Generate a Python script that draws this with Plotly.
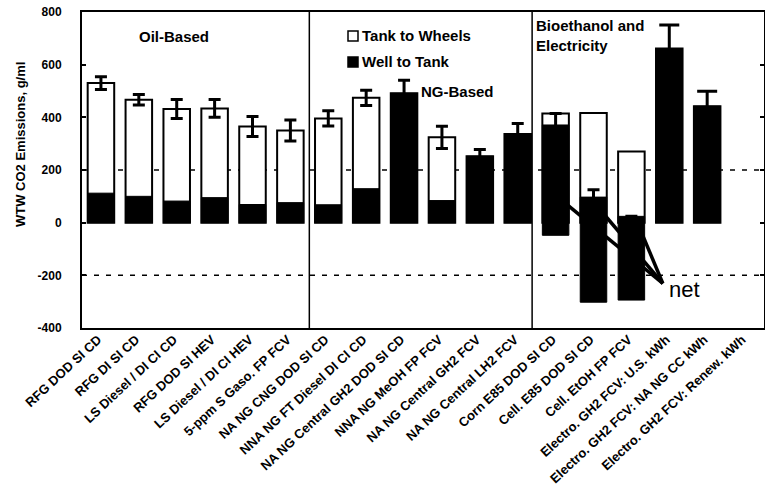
import plotly.graph_objects as go

categories = [
    "RFG DOD SI CD", "RFG DI SI CD", "LS Diesel / DI CI CD", "RFG DOD SI HEV",
    "LS Diesel / DI CI HEV", "5-ppm S Gaso. FP FCV", "NA NG CNG DOD SI CD",
    "NNA NG FT Diesel DI CI CD", "NA NG Central GH2 DOD SI CD", "NNA NG MeOH FP FCV",
    "NA NG Central GH2 FCV", "NA NG Central LH2 FCV", "Corn E85 DOD SI CD",
    "Cell. E85 DOD SI CD", "Cell. EtOH FP FCV", "Electro. GH2 FCV: U.S. kWh",
    "Electro. GH2 FCV: NA NG CC kWh", "Electro. GH2 FCV: Renew. kWh",
]
# Tank-to-wheels (outlined white) bar tops
ttw_top = [530, 467, 432, 434, 365, 350, 396, 474, 491, 324, 252, 337, 415, 416, 270, 661, 442, None]
# Well-to-tank (black) bar tops (net value for bioethanol pathways)
wtt_top = [112, 100, 82, 95, 69, 76, 68, 129, 491, 84, 252, 337, 371, 97, 24, 661, 442, None]
# Well-to-tank negative part (bioethanol credits)
wtt_base = [0, 0, 0, 0, 0, 0, 0, 0, 0, 0, 0, 0, -48, -302, -294, 0, 0, None]
# Error bar centers and half-ranges
err_mid = [530, 467, 432, 434, 365, 350, 396, 474, 491, 324, 252, 337, 371, 97, 24, 661, 442, None]
err_half = [24, 20, 36, 34, 38, 40, 29, 29, 50, 42, 26, 40, 44, 28, 0, 90, 57, None]
elec_idx = [15, 16]

section_labels = ["Oil-Based", "NG-Based", "Bioethanol and", "Electricity"]
legend_labels = ["Tank to Wheels", "Well to Tank"]
yticks = [-400, -200, 0, 200, 400, 600, 800]

FONT = "Liberation Sans, Arial, sans-serif"

# layout geometry (pixels)
W, H = 765, 491
ML, MR, MT, MB = 82, 1, 12, 163
PW, PH = W - ML - MR, H - MT - MB


def px(x):
    return (x - ML) / PW


def py(y):
    return (H - MB - y) / PH


fig = go.Figure()

fig.add_trace(go.Bar(
    x=categories, y=ttw_top, name=legend_labels[0], width=0.7,
    marker=dict(color="white", line=dict(color="black", width=2)),
    showlegend=False,
))
fig.add_trace(go.Bar(
    x=categories,
    y=[None if t is None else t - b for t, b in zip(wtt_top, wtt_base)],
    base=wtt_base, name=legend_labels[1], width=0.7,
    marker=dict(color="black", line=dict(color="black", width=1)),
    showlegend=False,
))

main_mask = [i for i in range(len(categories)) if i not in elec_idx]
for idxs, capw in [(main_mask, 6), (elec_idx, 10)]:
    fig.add_trace(go.Scatter(
        x=[categories[i] for i in idxs],
        y=[err_mid[i] for i in idxs],
        mode="markers",
        marker=dict(size=1, color="rgba(0,0,0,0)"),
        error_y=dict(type="data", array=[err_half[i] for i in idxs],
                     color="black", thickness=3, width=capw, visible=True),
        showlegend=False, hoverinfo="skip",
    ))

shapes = []
# dashed reference lines
for yv in [200, -200]:
    shapes.append(dict(type="line", xref="paper", x0=0, x1=1, yref="y", y0=yv, y1=yv,
                       line=dict(color="black", width=1.5, dash="5px,7px"), layer="below"))
# section separators
for xv in [5.5, 11.38]:
    shapes.append(dict(type="line", xref="x", x0=xv, x1=xv, yref="paper", y0=0, y1=1,
                       line=dict(color="black", width=1.5), layer="above"))
# "net" pointer lines
net_pt = (14.83, -231)
for (xs, ys) in [(12.27, 72), (13.17, 50), (14.17, -4)]:
    shapes.append(dict(type="line", xref="x", yref="y", x0=xs, y0=ys, x1=net_pt[0], y1=net_pt[1],
                       line=dict(color="black", width=3.5), layer="above"))
# legend squares
shapes.append(dict(type="rect", xref="paper", yref="paper",
                   x0=px(348), x1=px(358), y0=py(41), y1=py(31),
                   fillcolor="white", line=dict(color="black", width=1.5)))
shapes.append(dict(type="rect", xref="paper", yref="paper",
                   x0=px(348), x1=px(358), y0=py(67), y1=py(57),
                   fillcolor="black", line=dict(color="black", width=1.5)))

bold_ann = dict(family=FONT, size=15, color="black", weight="bold")
annotations = [
    dict(text=section_labels[0], x=px(174), y=py(37), xanchor="center", yanchor="middle"),
    dict(text=section_labels[1], x=px(419), y=py(91), xanchor="left", yanchor="middle"),
    dict(text=section_labels[2], x=px(534), y=py(25), xanchor="left", yanchor="middle"),
    dict(text=section_labels[3], x=px(534), y=py(45), xanchor="left", yanchor="middle"),
    dict(text=legend_labels[0], x=px(360), y=py(36), xanchor="left", yanchor="middle"),
    dict(text=legend_labels[1], x=px(360), y=py(62), xanchor="left", yanchor="middle"),
]
for a in annotations:
    a.update(xref="paper", yref="paper", showarrow=False, font=bold_ann)
annotations.append(dict(text="net", xref="paper", yref="paper", x=px(684), y=py(289),
                        xanchor="center", yanchor="middle", showarrow=False,
                        font=dict(family=FONT, size=22, color="black")))
annotations.append(dict(text="WTW CO2 Emissions, g/ml", xref="paper", yref="paper",
                        x=px(20), y=py(145), xanchor="center", yanchor="middle",
                        textangle=-90, showarrow=False,
                        font=dict(family=FONT, size=13, color="black", weight="bold")))

fig.update_layout(
    width=W, height=H,
    margin=dict(l=ML, r=MR, t=MT, b=MB, autoexpand=False),
    paper_bgcolor="white", plot_bgcolor="white",
    barmode="overlay",
    showlegend=False,
    shapes=shapes,
    annotations=annotations,
    font=dict(family=FONT, color="black"),
)
fig.update_xaxes(
    type="category", range=[-0.5, 17.5], tickangle=-43, automargin=False,
    tickfont=dict(family=FONT, size=13, color="black", weight="bold"),
    ticklabelshift=-3, ticklabelstandoff=-3,
    showline=True, linecolor="black", linewidth=2, mirror=True,
    showgrid=False, ticks="",
)
fig.update_yaxes(
    range=[-400, 800], tickvals=yticks, ticktext=[str(v) for v in yticks], automargin=False,
    tickfont=dict(family=FONT, size=12, color="black", weight="bold"),
    showline=True, linecolor="black", linewidth=2, mirror="ticks",
    ticks="inside", ticklen=4, tickcolor="black", tickwidth=1.5,
    ticklabelstandoff=16,
    showgrid=False, zeroline=False,
)

fig.write_html(
    "out.html",
    config={"displayModeBar": False},
    post_script="document.body.style.margin='0';document.body.style.overflow='hidden';",
)
